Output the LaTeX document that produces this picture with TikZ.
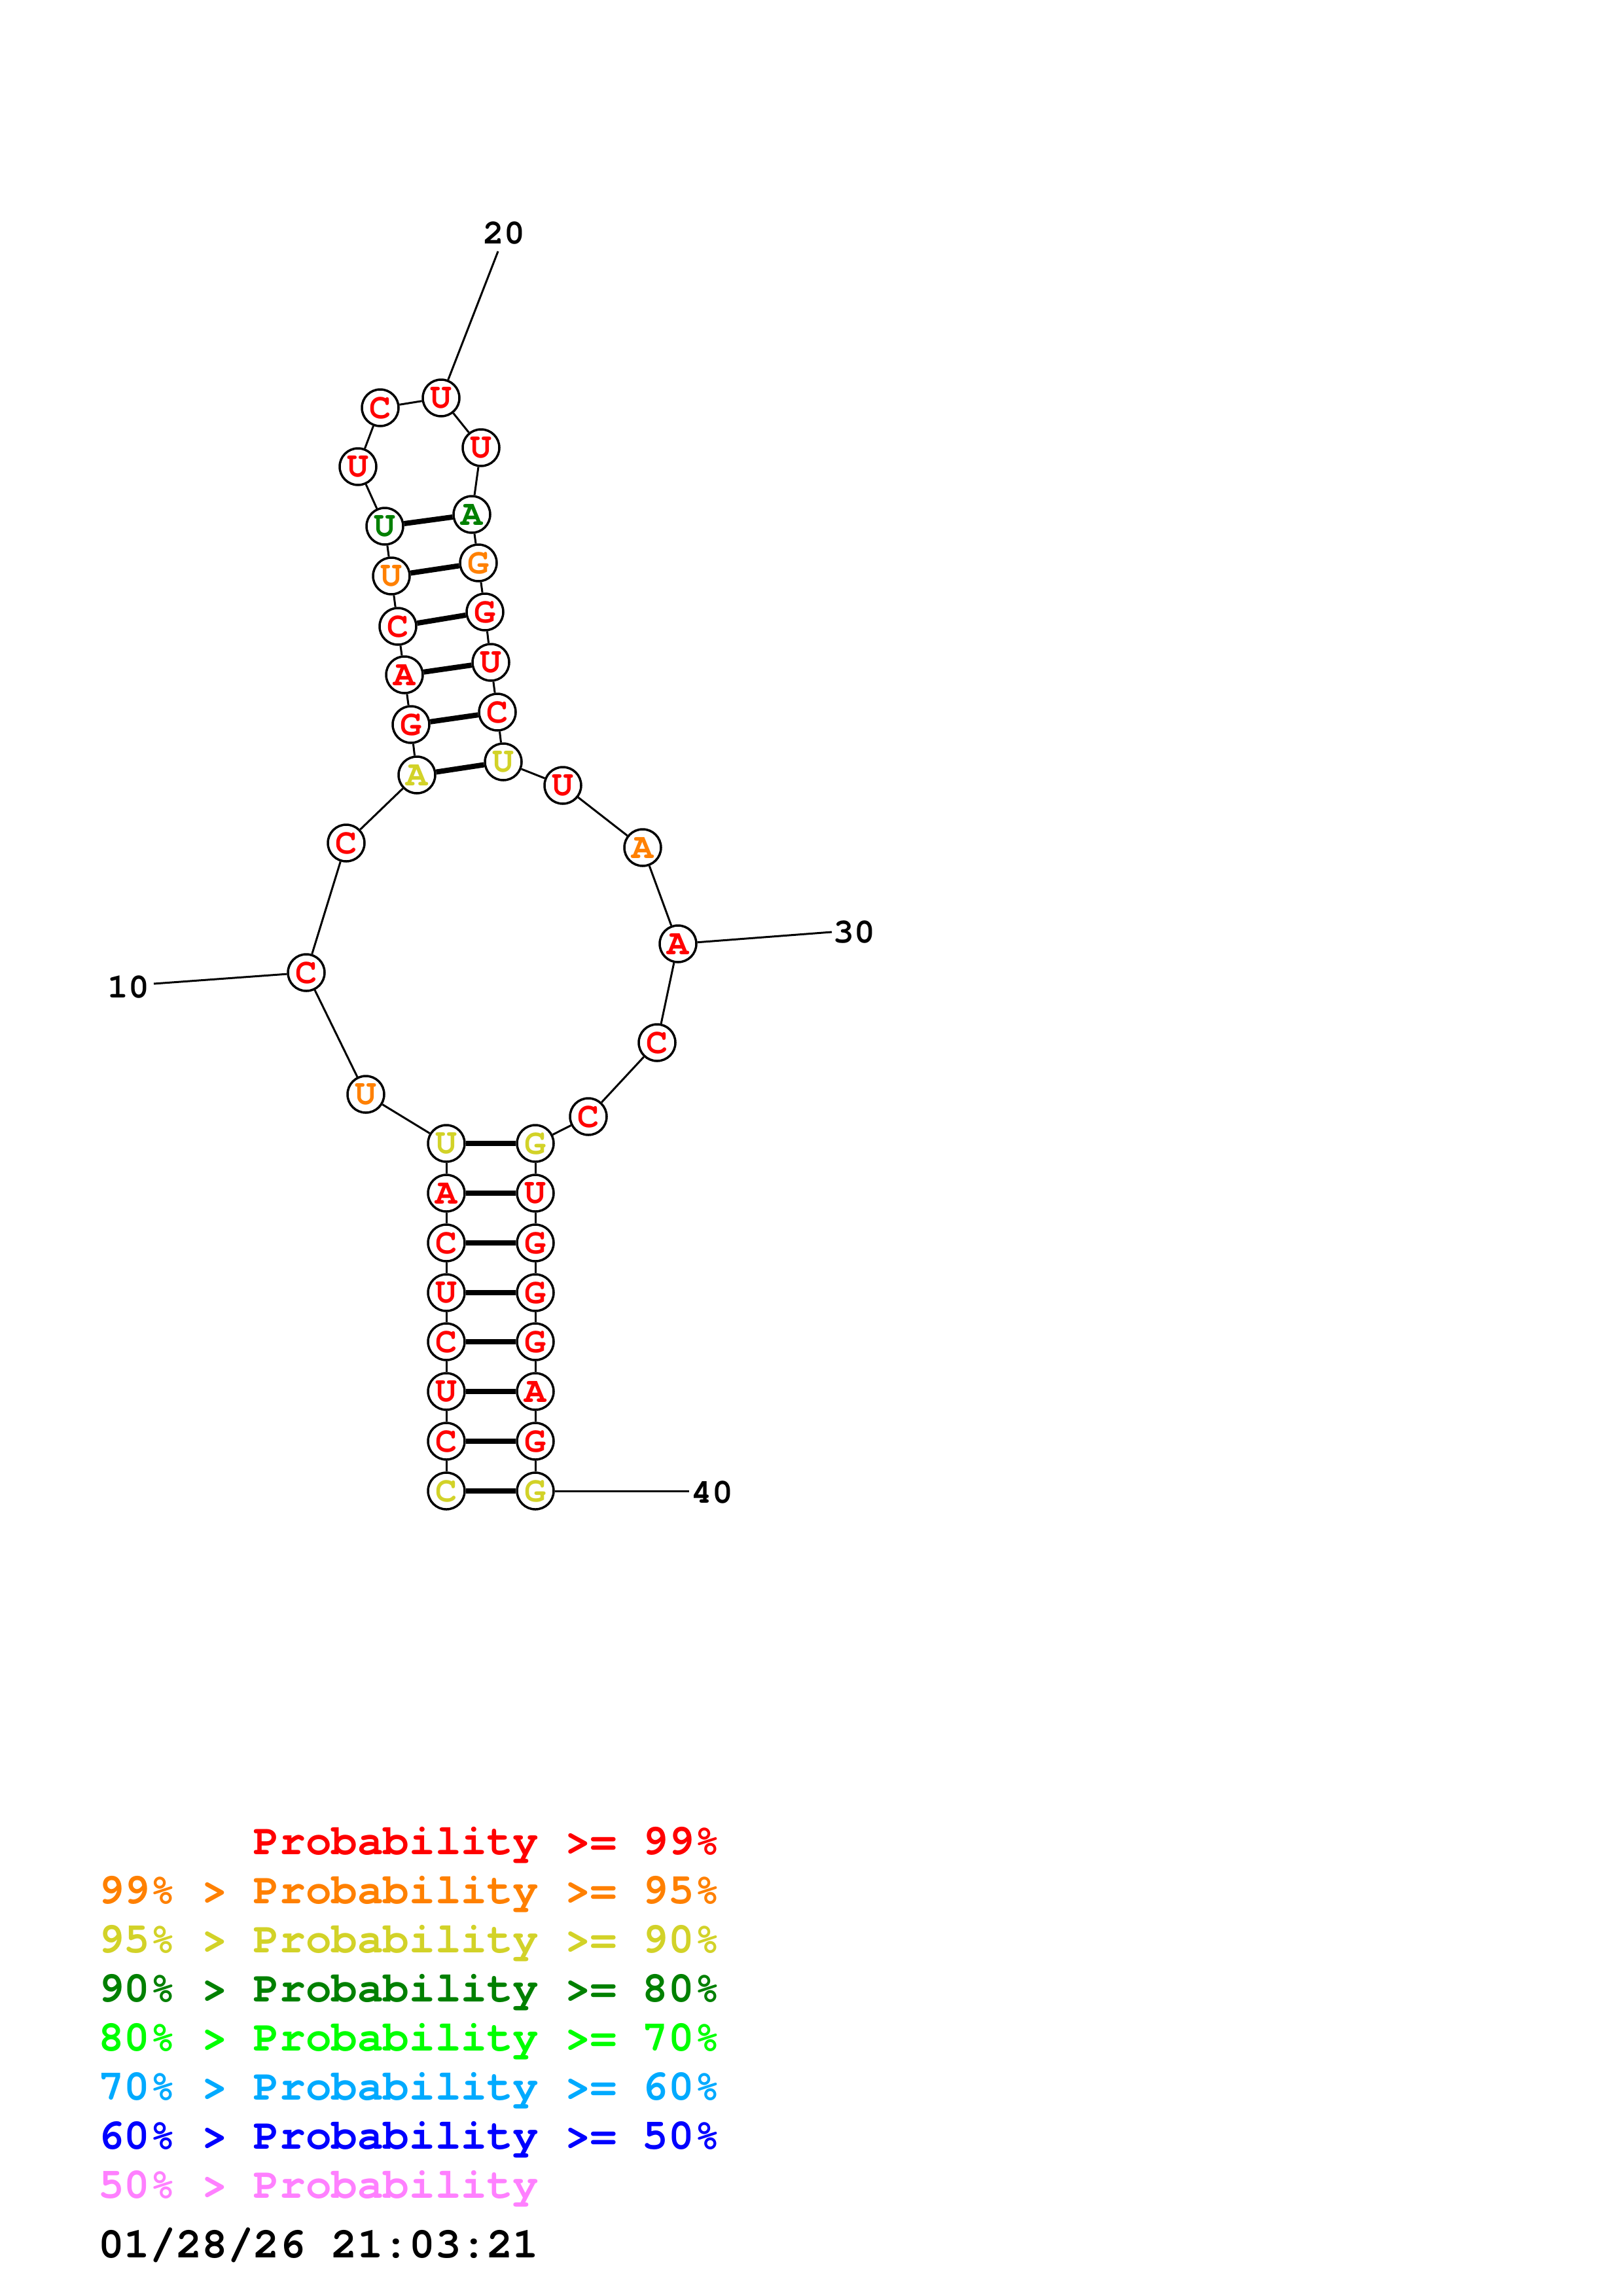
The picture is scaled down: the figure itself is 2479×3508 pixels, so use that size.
\documentclass[tikz,border=0pt]{standalone}
\usepackage{fontspec}
\setmonofont{texgyrecursor}[Extension=.otf, UprightFont=*-regular, BoldFont=*-bold]
\definecolor{pred}{RGB}{255,0,0}
\definecolor{porange}{RGB}{255,128,0}
\definecolor{pyellow}{RGB}{210,210,40}
\definecolor{pdgreen}{RGB}{0,128,0}
\definecolor{plgreen}{RGB}{0,255,0}
\definecolor{plblue}{RGB}{0,170,255}
\definecolor{pblue}{RGB}{0,0,255}
\definecolor{ppink}{RGB}{255,128,255}
\tikzset{
  nt/.style={circle, draw=black, line width=3.5pt, fill=white, minimum size=56pt, inner sep=0pt,
    font=\ttfamily\bfseries\fontsize{55pt}{55pt}\selectfont},
  R/.style={nt, text=pred}, O/.style={nt, text=porange}, Y/.style={nt, text=pyellow}, G/.style={nt, text=pdgreen},
  bb/.style={line width=3pt, black},
  bp/.style={line width=8pt, black},
  numlab/.style={inner sep=0pt, font=\ttfamily\bfseries\fontsize{53pt}{53pt}\selectfont},
  leg/.style={anchor=base west, inner sep=0pt, font=\ttfamily\bfseries\fontsize{66pt}{66pt}\selectfont}
}
\begin{document}
\begin{tikzpicture}[x=1pt,y=-1pt]
\useasboundingbox (0,0) rectangle (2479,3508);
% nucleotides
\node[Y] (n1) at (682,2278) {C};
\node[R] (n2) at (682,2202) {C};
\node[R] (n3) at (682,2126) {U};
\node[R] (n4) at (682,2050) {C};
\node[R] (n5) at (682,1975) {U};
\node[R] (n6) at (682,1899) {C};
\node[R] (n7) at (682,1823) {A};
\node[Y] (n8) at (682,1747) {U};
\node[O] (n9) at (559,1672) {U};
\node[R] (n10) at (468,1486) {C};
\node[R] (n11) at (529,1288) {C};
\node[Y] (n12) at (637,1184) {A};
\node[R] (n13) at (628,1107) {G};
\node[R] (n14) at (618,1031) {A};
\node[R] (n15) at (608,957) {C};
\node[O] (n16) at (598,880) {U};
\node[G] (n17) at (588,804) {U};
\node[R] (n18) at (547,713) {U};
\node[R] (n19) at (581,623) {C};
\node[R] (n20) at (674,608) {U};
\node[R] (n21) at (735,684) {U};
\node[G] (n22) at (721,786) {A};
\node[O] (n23) at (731,860) {G};
\node[R] (n24) at (741,935) {G};
\node[R] (n25) at (750,1012) {U};
\node[R] (n26) at (760,1088) {C};
\node[Y] (n27) at (769,1164) {U};
\node[R] (n28) at (860,1200) {U};
\node[O] (n29) at (982,1295) {A};
\node[R] (n30) at (1036,1442) {A};
\node[R] (n31) at (1004,1593) {C};
\node[R] (n32) at (899,1706) {C};
\node[Y] (n33) at (818,1747) {G};
\node[R] (n34) at (818,1823) {U};
\node[R] (n35) at (818,1899) {G};
\node[R] (n36) at (818,1975) {G};
\node[R] (n37) at (818,2050) {G};
\node[R] (n38) at (818,2126) {A};
\node[R] (n39) at (818,2202) {G};
\node[Y] (n40) at (818,2278) {G};
% backbone
\foreach \a/\b in {1/2,2/3,3/4,4/5,5/6,6/7,7/8,8/9,9/10,10/11,11/12,12/13,13/14,14/15,15/16,16/17,17/18,18/19,19/20,20/21,21/22,22/23,23/24,24/25,25/26,26/27,27/28,28/29,29/30,30/31,31/32,32/33,33/34,34/35,35/36,36/37,37/38,38/39,39/40}
  \draw[bb] (n\a) -- (n\b);
% base pairs
\foreach \a/\b in {1/40,2/39,3/38,4/37,5/36,6/35,7/34,8/33,12/27,13/26,14/25,15/24,16/23,17/22}
  \draw[bp] (n\a) -- (n\b);
% position labels
\coordinate (c10) at (235,1503);
\coordinate (c20) at (761,384);
\coordinate (c30) at (1271,1424);
\coordinate (c40) at (1053,2278);
\draw[bb] (n10) -- (c10);
\draw[bb] (n20) -- (c20);
\draw[bb] (n30) -- (c30);
\draw[bb] (n40) -- (c40);
\node[numlab] (t10) at (196,1508) {10};
\node[numlab] (t20) at (770,356) {20};
\node[numlab] (t30) at (1305,1424) {30};
\node[numlab] (t40) at (1088,2280) {40};
% legend
\node[leg, text=pred] (l1) at (387.6,2833) {Probability >= 99\%};
\node[leg, text=porange] (l2) at (150,2908) {99\% > Probability >= 95\%};
\node[leg, text=pyellow] (l3) at (150,2983) {95\% > Probability >= 90\%};
\node[leg, text=pdgreen] (l4) at (150,3058) {90\% > Probability >= 80\%};
\node[leg, text=plgreen] (l5) at (150,3133) {80\% > Probability >= 70\%};
\node[leg, text=plblue] (l6) at (150,3208) {70\% > Probability >= 60\%};
\node[leg, text=pblue] (l7) at (150,3283) {60\% > Probability >= 50\%};
\node[leg, text=ppink] (l8) at (150,3358) {50\% > Probability};
\node[leg, text=black] (l9) at (150,3449) {01/28/26 21:03:21};
\end{tikzpicture}
\end{document}
